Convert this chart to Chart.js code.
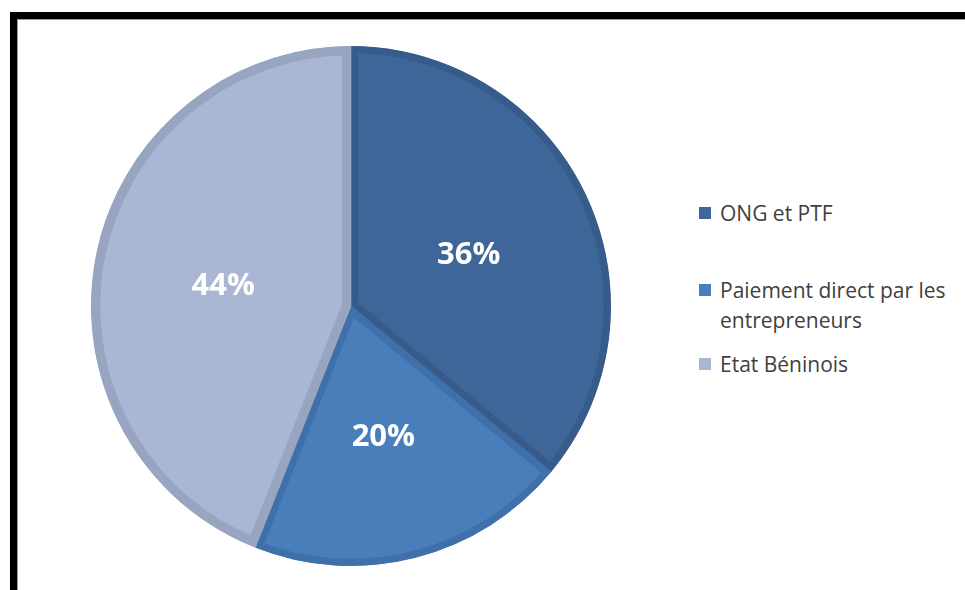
<!DOCTYPE html>
<html lang="fr">
<head>
<meta charset="utf-8">
<title>Sources de financement</title>
<script src="https://cdn.jsdelivr.net/npm/chart.js@4/dist/chart.umd.min.js"></script>
<style>
  html, body {
    margin: 0;
    padding: 0;
    width: 965px;
    height: 590px;
    overflow: hidden;
    background: #fff;
  }
  .frame {
    position: absolute;
    left: 10px;
    top: 12px;
    width: 1000px;
    height: 576px;
    border-left: 7px solid #000;
    border-top: 7px solid #000;
  }
  .frame::after {
    content: '';
    position: absolute;
    left: 0;
    top: 0;
    right: 0;
    bottom: 0;
    border-left: 1px solid #9a9a9a;
    border-top: 1px solid #9a9a9a;
    border-bottom: 1px solid #b0b0b0;
  }
  .pie-box {
    position: absolute;
    left: 91px;
    top: 46px;
    width: 520px;
    height: 520px;
  }
  ul.legend {
    position: absolute;
    left: 699px;
    top: 0;
    margin: 0;
    padding: 0;
    list-style: none;
    font-family: 'Open Sans', sans-serif;
    font-size: 21px;
    color: #404040;
  }
  ul.legend li {
    position: absolute;
    left: 0;
    width: 262px;
    line-height: 30px;
    padding-left: 21px;
  }
  ul.legend li span {
    position: absolute;
    left: 0;
    top: 9px;
    width: 12px;
    height: 12px;
  }
  ul.legend li:nth-child(1) { top: 198px; }
  ul.legend li:nth-child(2) { top: 275px; }
  ul.legend li:nth-child(3) { top: 349px; }
</style>
</head>
<body>
<div class="frame"></div>
<div class="pie-box"><canvas id="pieChart"></canvas></div>
<ul class="legend"></ul>
<script>
'use strict';

let sourceLabels = ['ONG et PTF', 'Paiement direct par les entrepreneurs', 'Etat Béninois'];
let sourceShares = [36, 20, 44];

let fillColors = ['#3e6699', '#4a7ebb', '#a9b7d4'];
let edgeColors = ['#375b8a', '#4070aa', '#97a5c0'];

// percentage written in the middle of each slice
let sliceLabels = {
  id: 'sliceLabels',
  afterDatasetsDraw(chart) {
    let ctx = chart.ctx;
    let meta = chart.getDatasetMeta(0);
    ctx.save();
    ctx.font = 'bold 31px "Open Sans", sans-serif';
    ctx.fillStyle = '#ffffff';
    ctx.textAlign = 'center';
    ctx.textBaseline = 'middle';
    for (let i = 0; i < meta.data.length; i++) {
      let pos = meta.data[i].tooltipPosition();
      ctx.fillText(sourceShares[i] + '%', pos.x, pos.y + 5);
    }
    ctx.restore();
  }
};

function renderLegend() {
  let ul = document.querySelector('ul.legend');
  for (let i = 0; i < sourceLabels.length; i++) {
    let li = document.createElement('li');
    let box = document.createElement('span');
    box.style.background = fillColors[i];
    li.appendChild(box);
    li.appendChild(document.createTextNode(sourceLabels[i]));
    ul.appendChild(li);
  }
}

function renderChart() {
  const ctx = document.getElementById('pieChart');
  let config = {
    type: 'pie',
    data: {
      labels: sourceLabels,
      datasets: [
        {
          data: sourceShares,
          backgroundColor: fillColors,
          borderColor: edgeColors,
          borderWidth: [7, 7, 9],
          borderAlign: 'inner',
          hoverOffset: 0
        }
      ]
    },
    options: {
      responsive: true,
      maintainAspectRatio: false,
      animation: false,
      events: [],
      layout: { padding: 0 },
      plugins: {
        legend: { display: false },
        tooltip: { enabled: false }
      }
    },
    plugins: [sliceLabels]
  };
  let myChart = new Chart(ctx, config);
}

renderLegend();
renderChart();
</script>
</body>
</html>
